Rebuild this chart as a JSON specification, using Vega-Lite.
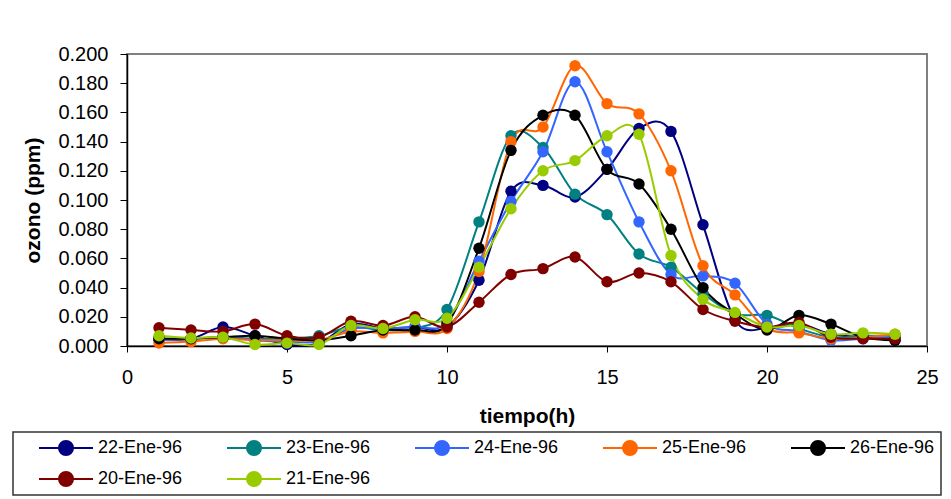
{
  "$schema": "https://vega.github.io/schema/vega-lite/v6.json",
  "autosize": "none",
  "width": 800,
  "height": 292,
  "padding": {"left": 127, "top": 54, "right": 24, "bottom": 153},
  "background": "white",
  "config": {
    "font": "Liberation Sans",
    "view": {"stroke": "#808080", "strokeWidth": 2},
    "axis": {"grid": false, "labelFlush": false, "domainColor": "black", "tickColor": "black", "labelColor": "black", "titleColor": "black", "labelFont": "Liberation Sans", "titleFont": "Liberation Sans", "labelFontSize": 20, "titleFontSize": 21, "titleFontWeight": "bold", "tickSize": 6, "domainWidth": 1.5}
  },
  "data": {"values": [
    {"h":1,"d":"22-Ene-96","v":0.005},{"h":2,"d":"22-Ene-96","v":0.005},{"h":3,"d":"22-Ene-96","v":0.013},{"h":4,"d":"22-Ene-96","v":0.007},{"h":5,"d":"22-Ene-96","v":0.001},{"h":6,"d":"22-Ene-96","v":0.002},{"h":7,"d":"22-Ene-96","v":0.015},{"h":8,"d":"22-Ene-96","v":0.012},{"h":9,"d":"22-Ene-96","v":0.013},{"h":10,"d":"22-Ene-96","v":0.013},{"h":11,"d":"22-Ene-96","v":0.045},{"h":12,"d":"22-Ene-96","v":0.106},{"h":13,"d":"22-Ene-96","v":0.110},{"h":14,"d":"22-Ene-96","v":0.102},{"h":15,"d":"22-Ene-96","v":0.121},{"h":16,"d":"22-Ene-96","v":0.149},{"h":17,"d":"22-Ene-96","v":0.147},{"h":18,"d":"22-Ene-96","v":0.083},{"h":19,"d":"22-Ene-96","v":0.018},{"h":20,"d":"22-Ene-96","v":0.012},{"h":21,"d":"22-Ene-96","v":0.015},{"h":22,"d":"22-Ene-96","v":0.008},{"h":23,"d":"22-Ene-96","v":0.006},{"h":24,"d":"22-Ene-96","v":0.004},
    {"h":1,"d":"23-Ene-96","v":0.005},{"h":2,"d":"23-Ene-96","v":0.005},{"h":3,"d":"23-Ene-96","v":0.006},{"h":4,"d":"23-Ene-96","v":0.005},{"h":5,"d":"23-Ene-96","v":0.005},{"h":6,"d":"23-Ene-96","v":0.007},{"h":7,"d":"23-Ene-96","v":0.013},{"h":8,"d":"23-Ene-96","v":0.011},{"h":9,"d":"23-Ene-96","v":0.012},{"h":10,"d":"23-Ene-96","v":0.025},{"h":11,"d":"23-Ene-96","v":0.085},{"h":12,"d":"23-Ene-96","v":0.144},{"h":13,"d":"23-Ene-96","v":0.136},{"h":14,"d":"23-Ene-96","v":0.104},{"h":15,"d":"23-Ene-96","v":0.090},{"h":16,"d":"23-Ene-96","v":0.063},{"h":17,"d":"23-Ene-96","v":0.054},{"h":18,"d":"23-Ene-96","v":0.036},{"h":19,"d":"23-Ene-96","v":0.022},{"h":20,"d":"23-Ene-96","v":0.021},{"h":21,"d":"23-Ene-96","v":0.012},{"h":22,"d":"23-Ene-96","v":0.006},{"h":23,"d":"23-Ene-96","v":0.007},{"h":24,"d":"23-Ene-96","v":0.007},
    {"h":1,"d":"24-Ene-96","v":0.004},{"h":2,"d":"24-Ene-96","v":0.005},{"h":3,"d":"24-Ene-96","v":0.006},{"h":4,"d":"24-Ene-96","v":0.004},{"h":5,"d":"24-Ene-96","v":0.003},{"h":6,"d":"24-Ene-96","v":0.003},{"h":7,"d":"24-Ene-96","v":0.012},{"h":8,"d":"24-Ene-96","v":0.012},{"h":9,"d":"24-Ene-96","v":0.013},{"h":10,"d":"24-Ene-96","v":0.016},{"h":11,"d":"24-Ene-96","v":0.058},{"h":12,"d":"24-Ene-96","v":0.099},{"h":13,"d":"24-Ene-96","v":0.133},{"h":14,"d":"24-Ene-96","v":0.181},{"h":15,"d":"24-Ene-96","v":0.133},{"h":16,"d":"24-Ene-96","v":0.085},{"h":17,"d":"24-Ene-96","v":0.049},{"h":18,"d":"24-Ene-96","v":0.048},{"h":19,"d":"24-Ene-96","v":0.043},{"h":20,"d":"24-Ene-96","v":0.015},{"h":21,"d":"24-Ene-96","v":0.010},{"h":22,"d":"24-Ene-96","v":0.004},{"h":23,"d":"24-Ene-96","v":0.005},{"h":24,"d":"24-Ene-96","v":0.006},
    {"h":1,"d":"25-Ene-96","v":0.002},{"h":2,"d":"25-Ene-96","v":0.003},{"h":3,"d":"25-Ene-96","v":0.005},{"h":4,"d":"25-Ene-96","v":0.004},{"h":5,"d":"25-Ene-96","v":0.004},{"h":6,"d":"25-Ene-96","v":0.004},{"h":7,"d":"25-Ene-96","v":0.010},{"h":8,"d":"25-Ene-96","v":0.009},{"h":9,"d":"25-Ene-96","v":0.010},{"h":10,"d":"25-Ene-96","v":0.012},{"h":11,"d":"25-Ene-96","v":0.051},{"h":12,"d":"25-Ene-96","v":0.140},{"h":13,"d":"25-Ene-96","v":0.150},{"h":14,"d":"25-Ene-96","v":0.192},{"h":15,"d":"25-Ene-96","v":0.166},{"h":16,"d":"25-Ene-96","v":0.159},{"h":17,"d":"25-Ene-96","v":0.120},{"h":18,"d":"25-Ene-96","v":0.055},{"h":19,"d":"25-Ene-96","v":0.035},{"h":20,"d":"25-Ene-96","v":0.012},{"h":21,"d":"25-Ene-96","v":0.009},{"h":22,"d":"25-Ene-96","v":0.005},{"h":23,"d":"25-Ene-96","v":0.006},{"h":24,"d":"25-Ene-96","v":0.008},
    {"h":1,"d":"26-Ene-96","v":0.005},{"h":2,"d":"26-Ene-96","v":0.005},{"h":3,"d":"26-Ene-96","v":0.006},{"h":4,"d":"26-Ene-96","v":0.007},{"h":5,"d":"26-Ene-96","v":0.005},{"h":6,"d":"26-Ene-96","v":0.004},{"h":7,"d":"26-Ene-96","v":0.007},{"h":8,"d":"26-Ene-96","v":0.011},{"h":9,"d":"26-Ene-96","v":0.011},{"h":10,"d":"26-Ene-96","v":0.015},{"h":11,"d":"26-Ene-96","v":0.067},{"h":12,"d":"26-Ene-96","v":0.134},{"h":13,"d":"26-Ene-96","v":0.158},{"h":14,"d":"26-Ene-96","v":0.158},{"h":15,"d":"26-Ene-96","v":0.121},{"h":16,"d":"26-Ene-96","v":0.111},{"h":17,"d":"26-Ene-96","v":0.080},{"h":18,"d":"26-Ene-96","v":0.040},{"h":19,"d":"26-Ene-96","v":0.022},{"h":20,"d":"26-Ene-96","v":0.011},{"h":21,"d":"26-Ene-96","v":0.021},{"h":22,"d":"26-Ene-96","v":0.015},{"h":23,"d":"26-Ene-96","v":0.006},{"h":24,"d":"26-Ene-96","v":0.004},
    {"h":1,"d":"20-Ene-96","v":0.0125},{"h":2,"d":"20-Ene-96","v":0.011},{"h":3,"d":"20-Ene-96","v":0.010},{"h":4,"d":"20-Ene-96","v":0.015},{"h":5,"d":"20-Ene-96","v":0.007},{"h":6,"d":"20-Ene-96","v":0.006},{"h":7,"d":"20-Ene-96","v":0.017},{"h":8,"d":"20-Ene-96","v":0.014},{"h":9,"d":"20-Ene-96","v":0.020},{"h":10,"d":"20-Ene-96","v":0.013},{"h":11,"d":"20-Ene-96","v":0.030},{"h":12,"d":"20-Ene-96","v":0.049},{"h":13,"d":"20-Ene-96","v":0.053},{"h":14,"d":"20-Ene-96","v":0.061},{"h":15,"d":"20-Ene-96","v":0.044},{"h":16,"d":"20-Ene-96","v":0.050},{"h":17,"d":"20-Ene-96","v":0.044},{"h":18,"d":"20-Ene-96","v":0.025},{"h":19,"d":"20-Ene-96","v":0.017},{"h":20,"d":"20-Ene-96","v":0.013},{"h":21,"d":"20-Ene-96","v":0.016},{"h":22,"d":"20-Ene-96","v":0.006},{"h":23,"d":"20-Ene-96","v":0.005},{"h":24,"d":"20-Ene-96","v":0.005},
    {"h":1,"d":"21-Ene-96","v":0.007},{"h":2,"d":"21-Ene-96","v":0.0055},{"h":3,"d":"21-Ene-96","v":0.006},{"h":4,"d":"21-Ene-96","v":0.001},{"h":5,"d":"21-Ene-96","v":0.002},{"h":6,"d":"21-Ene-96","v":0.001},{"h":7,"d":"21-Ene-96","v":0.014},{"h":8,"d":"21-Ene-96","v":0.012},{"h":9,"d":"21-Ene-96","v":0.018},{"h":10,"d":"21-Ene-96","v":0.019},{"h":11,"d":"21-Ene-96","v":0.054},{"h":12,"d":"21-Ene-96","v":0.094},{"h":13,"d":"21-Ene-96","v":0.120},{"h":14,"d":"21-Ene-96","v":0.127},{"h":15,"d":"21-Ene-96","v":0.144},{"h":16,"d":"21-Ene-96","v":0.145},{"h":17,"d":"21-Ene-96","v":0.062},{"h":18,"d":"21-Ene-96","v":0.032},{"h":19,"d":"21-Ene-96","v":0.023},{"h":20,"d":"21-Ene-96","v":0.013},{"h":21,"d":"21-Ene-96","v":0.014},{"h":22,"d":"21-Ene-96","v":0.008},{"h":23,"d":"21-Ene-96","v":0.009},{"h":24,"d":"21-Ene-96","v":0.008}
  ]},
  "encoding": {
    "x": {"field": "h", "type": "quantitative", "title": "tiempo(h)", "scale": {"domain": [0, 25], "nice": false}, "axis": {"values": [0, 5, 10, 15, 20, 25], "labelPadding": 15, "titlePadding": 18}},
    "y": {"field": "v", "type": "quantitative", "title": "ozono (ppm)", "scale": {"domain": [0, 0.2], "nice": false}, "axis": {"values": [0, 0.02, 0.04, 0.06, 0.08, 0.1, 0.12, 0.14, 0.16, 0.18, 0.2], "format": ".3f", "tickSize": 7, "labelPadding": 12, "titlePadding": 14}},
    "color": {
      "field": "d", "type": "nominal",
      "scale": {"domain": ["22-Ene-96", "23-Ene-96", "24-Ene-96", "25-Ene-96", "26-Ene-96", "20-Ene-96", "21-Ene-96"], "range": ["#000080", "#008080", "#3366FF", "#FF6600", "#000000", "#800000", "#99CC00"]},
      "legend": {
        "title": null, "orient": "none", "legendX": -114, "legendY": 378, "direction": "horizontal", "columns": 5, "gridAlign": "all",
        "strokeColor": "#333333", "padding": 6, "columnPadding": 24, "rowPadding": 11, "clipHeight": 20,
        "symbolOffset": 19,
        "labelFont": "Liberation Sans", "labelFontSize": 18, "labelColor": "black", "labelOffset": 4,
        "symbolType": "M-1,0H1M0.26,0A0.26,0.26,0,1,1,-0.26,0A0.26,0.26,0,1,1,0.26,0Z",
        "symbolSize": 2916, "symbolStrokeWidth": 2,
        "encode": {
          "legend": {"update": {"strokeWidth": {"value": 1.5}}},
          "symbols": {"update": {"fill": {"scale": "color", "field": "value"}, "stroke": {"scale": "color", "field": "value"}, "strokeWidth": {"value": 2}}}
        }
      }
    }
  },
  "layer": [
    {"mark": {"type": "line", "interpolate": "cardinal", "tension": 0, "strokeWidth": 2}},
    {"mark": {"type": "point", "filled": true, "opacity": 1, "size": 130, "shape": "circle"}}
  ]
}
